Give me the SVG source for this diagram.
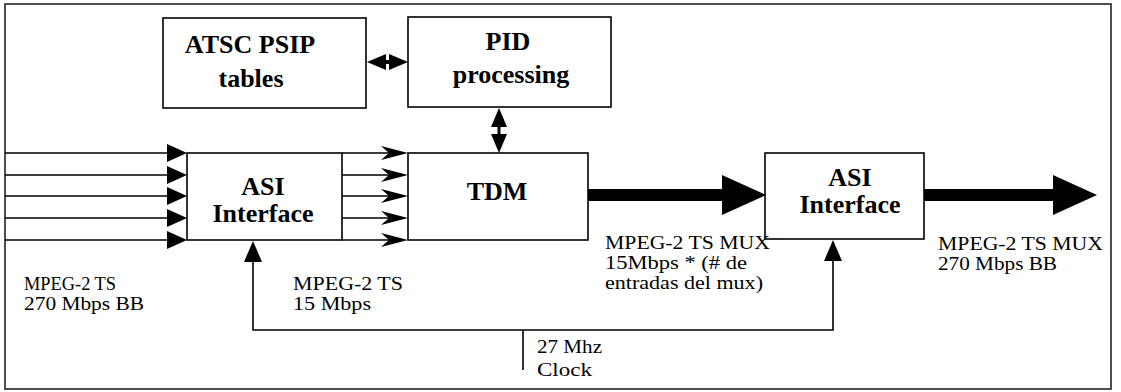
<svg xmlns="http://www.w3.org/2000/svg" width="1121" height="392" viewBox="0 0 1121 392">
<style>
.box{fill:#fff;stroke:#000;stroke-width:1.6}
.bt{font-family:'Liberation Serif',serif;font-weight:bold;font-size:26px;fill:#000;text-anchor:middle}
.lb{font-family:'Liberation Serif',serif;font-size:19px;fill:#000}
.ln{fill:none;stroke:#000;stroke-width:1.6}
.ar{fill:#000;stroke:none}
</style>
<rect x="0" y="0" width="1121" height="392" fill="#fff"/>
<rect x="5" y="4" width="1106" height="385" fill="none" stroke="#222" stroke-width="1.6"/>

<g id="connectors">
  <path class="ln" d="M5 153H170M5 175H170M5 196H170M5 218H170M5 240H170"/>
  <path class="ar" d="M167 144L187 153L167 162ZM167 166L187 175L167 184ZM167 187L187 196L167 205ZM167 209L187 218L167 227ZM167 231L187 240L167 249Z"/>
  <path class="ln" d="M342 153H400M342 175H400M342 196H400M342 218H400M342 240H400"/>
  <path class="ar" d="M408 153L381 146L389 153L381 160ZM408 175L381 168L389 175L381 182ZM408 196L381 189L389 196L381 203ZM408 218L381 211L389 218L381 225ZM408 240L381 233L389 240L381 247Z"/>
  <path d="M380 62H395" stroke="#000" stroke-width="4"/>
  <path class="ar" d="M367 62L386 54L386 70ZM408 62L389 54L389 70Z"/>
  <path d="M499 120V140" stroke="#000" stroke-width="3"/>
  <path class="ar" d="M499 108L491 127L507 127ZM499 153L491 134L507 134Z"/>
  <rect class="ar" x="588" y="189" width="137" height="12"/>
  <path class="ar" d="M722 175L766 195L722 215Z"/>
  <rect class="ar" x="924" y="189" width="131" height="12"/>
  <path class="ar" d="M1053 175L1097 195L1053 215Z"/>
  <path class="ln" d="M253 258V330H833V258M523 330V370"/>
  <path class="ar" d="M253 241L244 262L262 262ZM833 240L824 261L842 261Z"/>
</g>

<g id="atsc">
  <rect class="box" x="163" y="18" width="203" height="90"/>
  <text class="bt" x="250" y="53">ATSC PSIP</text>
  <text class="bt" x="251" y="87">tables</text>
</g>
<g id="pid">
  <rect class="box" x="408" y="17" width="203" height="90"/>
  <text class="bt" x="508" y="50">PID</text>
  <text class="bt" x="511" y="83">processing</text>
</g>
<g id="asi1">
  <rect class="box" x="187" y="153" width="155" height="87"/>
  <text class="bt" x="263" y="195">ASI</text>
  <text class="bt" x="263" y="222">Interface</text>
</g>
<g id="tdm">
  <rect class="box" x="408" y="153" width="180" height="87"/>
  <text class="bt" x="497" y="200">TDM</text>
</g>
<g id="asi2">
  <rect class="box" x="765" y="153" width="159" height="86"/>
  <text class="bt" x="850" y="186">ASI</text>
  <text class="bt" x="850" y="213">Interface</text>
</g>

<g id="labels">
  <text class="lb" x="24" y="290" textLength="92" lengthAdjust="spacingAndGlyphs">MPEG-2 TS</text>
  <text class="lb" x="24" y="310" textLength="120" lengthAdjust="spacingAndGlyphs">270 Mbps BB</text>
  <text class="lb" x="293" y="290" textLength="110" lengthAdjust="spacingAndGlyphs">MPEG-2 TS</text>
  <text class="lb" x="293" y="310" textLength="78" lengthAdjust="spacingAndGlyphs">15 Mbps</text>
  <text class="lb" x="605" y="249" textLength="165" lengthAdjust="spacingAndGlyphs">MPEG-2 TS MUX</text>
  <text class="lb" x="605" y="269" textLength="142" lengthAdjust="spacingAndGlyphs">15Mbps * (# de</text>
  <text class="lb" x="605" y="289" textLength="158" lengthAdjust="spacingAndGlyphs">entradas del mux)</text>
  <text class="lb" x="938" y="250" textLength="165" lengthAdjust="spacingAndGlyphs">MPEG-2 TS MUX</text>
  <text class="lb" x="938" y="270" textLength="119" lengthAdjust="spacingAndGlyphs">270 Mbps BB</text>
  <text class="lb" x="537" y="353" textLength="65" lengthAdjust="spacingAndGlyphs">27 Mhz</text>
  <text class="lb" x="537" y="376" textLength="55" lengthAdjust="spacingAndGlyphs">Clock</text>
</g>
</svg>
